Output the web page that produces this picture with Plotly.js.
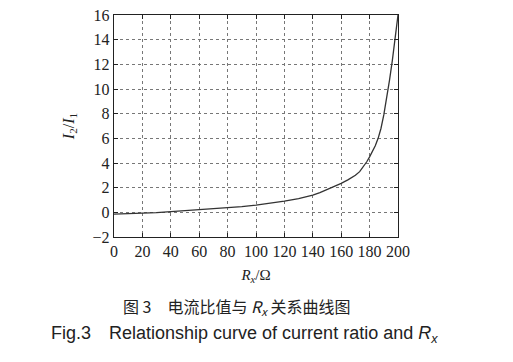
<!DOCTYPE html>
<html><head><meta charset="utf-8">
<script src="https://cdn.plot.ly/plotly-3.0.1.min.js"></script>
<style>html,body{margin:0;padding:0;background:#fff;}</style>
</head><body>
<div id="chart" style="width:513px;height:362px;"></div>
<script>
var rx = [0,10,20,30,40,50,60,70,80,90,100,110,120,130,140,145,150,155,160,165,170,173,176,178,180,182,184,186,188,190,192,194,196,198,200];
var ratio = [-0.15,-0.12,-0.08,-0.02,0.05,0.12,0.19,0.27,0.36,0.46,0.58,0.72,0.9,1.12,1.39,1.6,1.85,2.08,2.35,2.65,3.0,3.3,3.75,4.1,4.5,4.9,5.4,6.0,6.8,7.9,9.2,10.7,12.3,14.2,16];
var xTicks = [0,20,40,60,80,100,120,140,160,180,200];
var yTicks = [-2,0,2,4,6,8,10,12,14,16];

var serif = '"Liberation Serif", "Times New Roman", serif';
var axisCommon = {
  showline: true, mirror: 'ticks', linecolor: '#222', linewidth: 1.2,
  ticks: 'inside', ticklen: 4, tickcolor: '#222',
  showgrid: true, gridcolor: '#777', griddash: 'dot', gridwidth: 1,
  zeroline: false,
  tickfont: {family: serif, size: 16, color: '#222'}
};
var layout = {
  width: 513, height: 362,
  margin: {l: 114, r: 115, t: 15, b: 125},
  paper_bgcolor: '#fff', plot_bgcolor: '#fff',
  showlegend: false,
  xaxis: Object.assign({}, axisCommon, {
    range: [0, 200], tickvals: xTicks, ticktext: xTicks.map(String),
    title: {text: '<i>R</i><sub><i>x</i></sub>/Ω', standoff: 10,
      font: {family: serif, size: 15, color: '#222'}}
  }),
  yaxis: Object.assign({}, axisCommon, {
    range: [-2, 16], tickvals: yTicks, ticktext: yTicks.map(function(v){return v<0?'\u2212'+Math.abs(v):String(v);}),
    title: {text: '<i>I</i><sub>2</sub>/<i>I</i><sub>1</sub>', standoff: 14,
      font: {family: serif, size: 16, color: '#222'}}
  }),
  annotations: [
    {text: '图 3　电流比值与 <i>R</i><sub><i>x</i></sub> 关系曲线图', xref: 'paper', yref: 'paper',
     x: 0.43, y: -0.315, xanchor: 'center', yanchor: 'middle', showarrow: false,
     font: {family: '"Noto Sans CJK SC", sans-serif', size: 16, color: '#222'}},
    {text: 'Fig.3　Relationship curve of current ratio and <i>R</i><sub><i>x</i></sub>', xref: 'paper', yref: 'paper',
     x: 0.46, y: -0.44, xanchor: 'center', yanchor: 'middle', showarrow: false,
     font: {family: '"Liberation Sans", Arial, sans-serif', size: 18, color: '#222'}}
  ]
};
var data = [{
  x: rx, y: ratio, type: 'scatter', mode: 'lines',
  line: {color: '#333', width: 1.3}
}];
Plotly.newPlot('chart', data, layout, {displayModeBar: false, staticPlot: true});
</script>
</body></html>
